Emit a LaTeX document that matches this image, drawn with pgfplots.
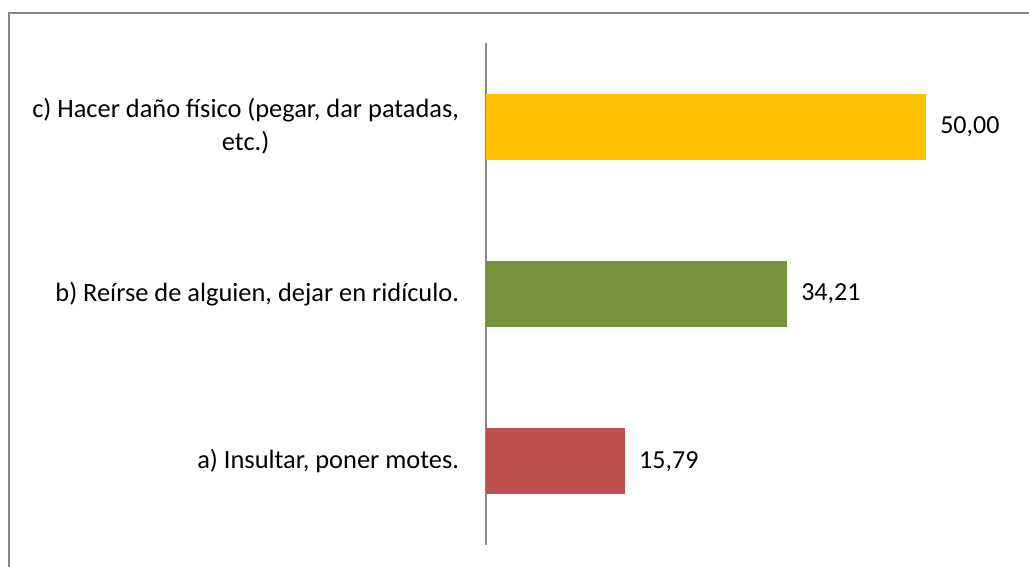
\documentclass[border=0pt]{standalone}
\usepackage{fontspec}
\setmainfont{Carlito}
\usepackage{pgfplots}
\pgfplotsset{compat=1.18}
\definecolor{barC}{HTML}{FFC000}
\definecolor{barB}{HTML}{77933C}
\definecolor{barA}{HTML}{C0504D}
\definecolor{framegray}{HTML}{878787}
\begin{document}
\begin{tikzpicture}[x=1pt,y=1pt]
% page is 1029 x 567 px at 0.75pt per px
\useasboundingbox (0,0) rectangle (771.75,425.25);
\draw[framegray, line width=1.3pt] (6.75,0) -- (6.75,415.5) -- (771.75,415.5);
\begin{axis}[
  at={(364.5pt,16.5pt)}, anchor=south west,
  scale only axis, width=396pt, height=376.5pt,
  xbar, bar width=49.5pt, bar shift=0pt,
  xmin=0, xmax=60, ymin=-0.5, ymax=2.5,
  axis x line=none, axis y line=left,
  axis line style={-, framegray, line width=1.1pt},
  xtick=\empty,
  ytick={0,1,2},
  yticklabels={{a) Insultar, poner motes.},{b) Reírse de alguien, dejar en ridículo.},{c) Hacer daño físico (pegar, dar patadas,\\etc.)}},
  major tick length=0pt,
  yticklabel style={align=center, inner sep=0pt, xshift=-20pt,
    font=\fontsize{19.8}{24.75}\selectfont},
  clip=false,
  nodes near coords,
  every node near coord/.append style={anchor=west, inner sep=0pt, xshift=10.5pt,
    font=\fontsize{19.5}{24.75}\selectfont, text=black},
  /pgf/number format/.cd, fixed, fixed zerofill, precision=2, use comma, assume math mode=true,
]
\addplot[fill=barA, draw=none] coordinates {(15.79,0)};
\addplot[fill=barB, draw=none] coordinates {(34.21,1)};
\addplot[fill=barC, draw=none] coordinates {(50.00,2)};
\end{axis}
\end{tikzpicture}
\end{document}
